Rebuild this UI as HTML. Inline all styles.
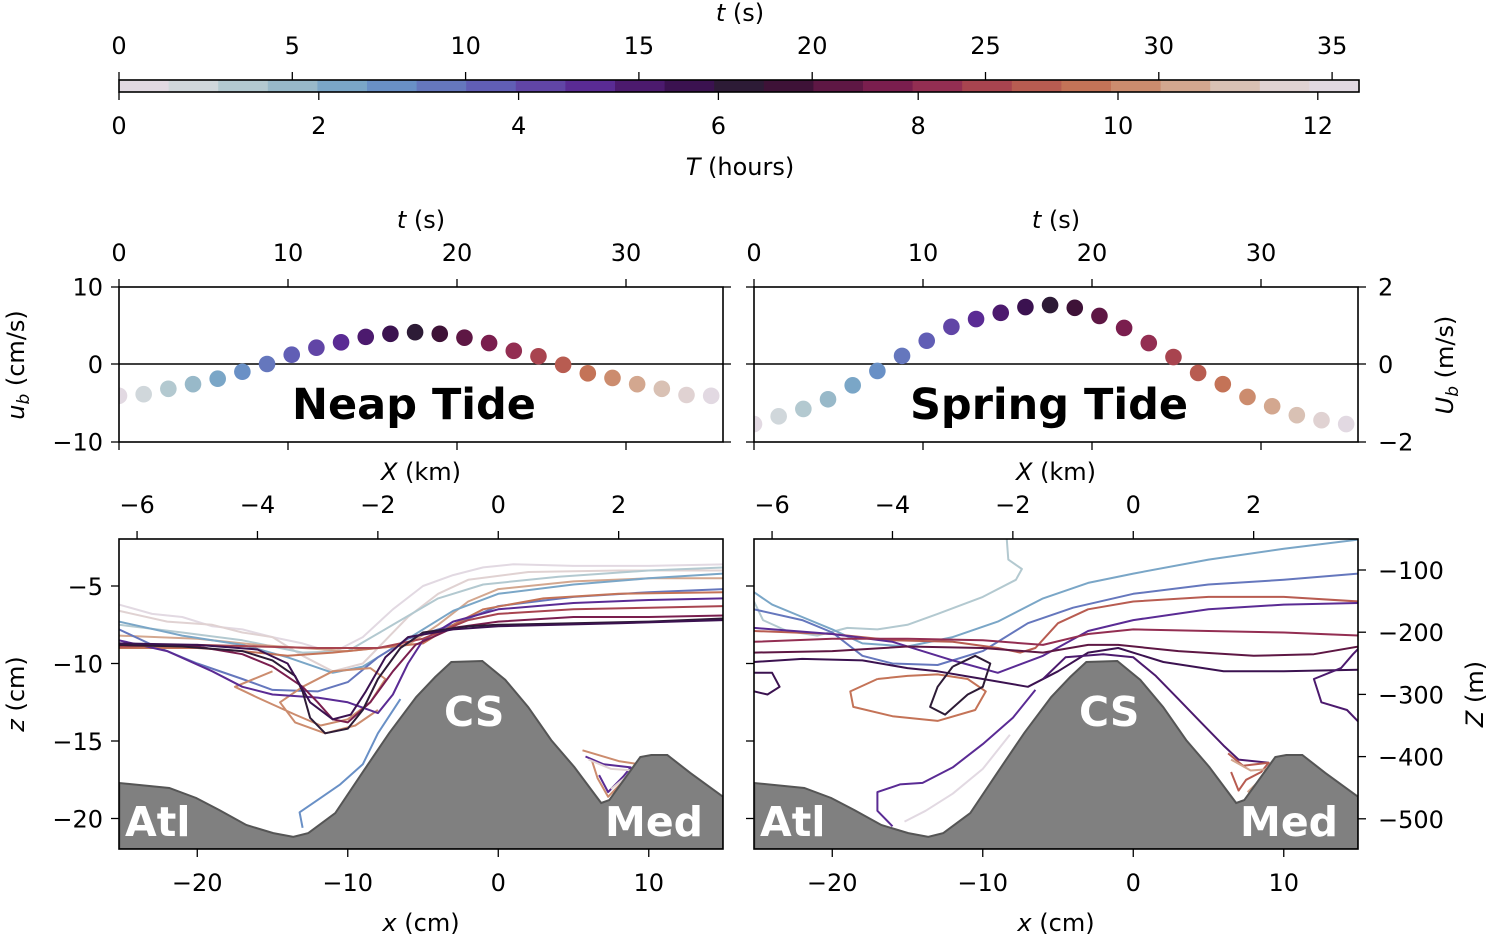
<!DOCTYPE html>
<html><head><meta charset="utf-8">
<style>
html,body{margin:0;padding:0;background:#fff;}
svg{display:block;font-family:"DejaVu Sans","Liberation Sans",sans-serif;}
</style></head>
<body>
<svg id="fig" width="1492" height="937" viewBox="0 0 1492 937" xmlns="http://www.w3.org/2000/svg">
<defs>
<clipPath id="clipL"><rect x="119" y="539" width="604" height="310"/></clipPath>
<clipPath id="clipR"><rect x="754" y="539" width="604" height="310"/></clipPath>
<clipPath id="clipTL"><rect x="119" y="287" width="604" height="155"/></clipPath>
<clipPath id="clipTR"><rect x="754" y="287" width="604" height="155"/></clipPath>
</defs>
<g id="cbar"></g>
<g id="topPanels"></g>
<g id="botPanels"></g>
</svg>
<script>
const cmap=["#e2d9e2","#d0d7db","#b3c9d0","#98b9c9","#7aa6c7","#6990c6","#6577bd","#615eb5","#6145a6","#5a2b94","#4c1a6e","#3b1250","#2d1b36","#3e1237","#5e1744","#7a1e4e","#932e52","#a8444f","#b85c51","#c47357","#cc8c6e","#d3a78f","#d9c1b4","#e0d2d2","#e2d9e2"];
const tSec=[0,1.46,2.92,4.38,5.84,7.3,8.76,10.22,11.68,13.14,14.6,16.06,17.52,18.98,20.44,21.9,23.36,24.82,26.28,27.74,29.2,30.66,32.12,33.58,35.04];
const neapUb=[-4.1,-3.9,-3.2,-2.6,-1.9,-1.0,0,1.2,2.1,2.8,3.5,3.9,4.1,3.9,3.4,2.7,1.7,1.0,-0.1,-1.2,-1.8,-2.6,-3.2,-4.0,-4.1];
const springUb=[-1.55,-1.35,-1.16,-0.91,-0.55,-0.18,0.21,0.6,0.96,1.16,1.32,1.47,1.52,1.45,1.24,0.93,0.54,0.18,-0.23,-0.52,-0.85,-1.09,-1.32,-1.45,-1.55];
const cbTopTicks=[0,5,10,15,20,25,30,35];
const cbBotTicks=[0,2,4,6,8,10,12];
const tTicks=[0,10,20,30];
const XkmTicks=[-6,-4,-2,0,2];
const xcmTicks=[-20,-10,0,10];
const zTicks=[-5,-10,-15,-20];
const ZmTicks=[-100,-200,-300,-400,-500];
const bathyX=[-25.18,-21.86,-20.07,-18.54,-16.74,-14.95,-13.62,-12.62,-10.83,-9.04,-7.24,-5.45,-4.19,-3.12,-1.06,0.47,1.99,3.52,5.05,6.84,7.38,9.44,10.17,11.23,12.76,14.95];
const bathyZ=[-17.71,-18.03,-18.68,-19.45,-20.42,-20.94,-21.19,-20.94,-19.65,-17.06,-14.48,-12.16,-10.87,-9.9,-9.84,-11.06,-12.81,-14.94,-16.68,-19.0,-18.81,-16.03,-15.9,-15.9,-17.06,-18.61];
const neapColors=[0,23,2,21,4,6,19,20,9,17,15,12,11,5,20,9,23];
const neapLines=[
[[-25.2,-6.2],[-23,-6.8],[-21,-7.0],[-19,-7.6],[-17,-7.8],[-15,-8.3],[-13,-8.7],[-11,-9.3],[-9,-8.3],[-7,-6.5],[-5,-5.0],[-3,-4.3],[-1,-3.8],[1,-3.6],[5,-3.7],[10,-3.7],[15,-3.6]],
[[-25.2,-6.6],[-22,-7.3],[-19,-7.5],[-17,-8],[-15,-8.3],[-13,-9.5],[-11,-10.5],[-9,-10],[-8,-9],[-6,-7],[-4,-5.5],[-2,-4.6],[2,-4.1],[8,-4],[15,-4]],
[[-25.2,-7.5],[-21,-8],[-17,-8.5],[-13,-9.3],[-10,-9.2],[-7,-7.5],[-4,-5.8],[-1,-4.9],[4,-4.4],[10,-4.0],[15,-3.8]],
[[-25.2,-8.2],[-20,-8.4],[-16,-8.8],[-13,-9],[-10,-9.2],[-6,-8.8],[-4,-7.5],[-2,-6],[0,-5.2],[5,-4.7],[10,-4.5],[15,-4.5]],
[[-25.2,-7.3],[-21,-8.2],[-17,-8.8],[-14,-9.6],[-11,-10.6],[-9,-10.2],[-6,-8.4],[-3,-6.6],[0,-5.5],[5,-4.9],[10,-4.5],[15,-4.2]],
[[-25.2,-7.8],[-23,-8.8],[-20,-10],[-17,-11],[-15,-11.7],[-12,-11.8],[-10,-11.2],[-8,-9.6],[-6,-8.4],[-3,-7.5],[0,-6.3],[5,-5.7],[10,-5.4],[15,-5.2]],
[[-25.2,-9],[-20,-9],[-17,-9.2],[-14,-9.5],[-11,-9.3],[-8,-9],[-5,-8.7],[-3,-7.5],[-1,-6.5],[3,-5.8],[8,-5.5],[15,-5.4]],
[[-15,-10.5],[-17.5,-11.5],[-16,-12.2],[-13.5,-13.3],[-11.8,-14],[-10,-13.6],[-8.5,-12.5],[-7.5,-11],[-8.5,-10.3],[-11,-10.5],[-13,-11.5],[-14.5,-12.5],[-13.5,-13.8],[-11.5,-14.5],[-9.5,-14],[-8,-13]],
[[-25.2,-8.5],[-22,-9.2],[-19,-10.5],[-17,-11.5],[-15,-12],[-12,-12.2],[-10,-12.5],[-8,-13.2],[-7,-12],[-6,-10],[-5,-8.5],[-3,-7.3],[0,-6.5],[5,-6.1],[10,-5.9],[15,-5.8]],
[[-25.2,-8.9],[-20,-8.8],[-16,-8.9],[-12,-9],[-8,-9],[-5,-8.4],[-2,-7.2],[0,-6.8],[5,-6.5],[10,-6.4],[15,-6.3]],
[[-25.2,-8.8],[-20,-8.9],[-17,-9.4],[-15,-10.2],[-13,-11.5],[-12,-12.5],[-11,-13.6],[-10,-13.8],[-8.5,-12.5],[-7,-10.5],[-5.5,-8.8],[-3,-7.7],[0,-7.3],[5,-7],[10,-7],[15,-6.9]],
[[-25.2,-8.8],[-21,-8.9],[-17,-9.2],[-15,-9.8],[-13.5,-10.8],[-13,-11.8],[-12.5,-13.5],[-11.5,-14.5],[-10,-14.2],[-9,-13],[-8,-11],[-6.5,-9],[-5,-8],[-2,-7.6],[0,-7.5],[5,-7.4],[10,-7.3],[15,-7.1]],
[[-25.2,-8.7],[-20,-8.8],[-16,-9.1],[-14,-10],[-12.5,-12.5],[-11,-13.6],[-9.8,-13.3],[-8.8,-11.8],[-7.5,-9.6],[-6,-8.3],[-3,-7.8],[0,-7.6],[8,-7.4],[15,-7.2]],
[[-13,-20.6],[-13.2,-19.6],[-12,-18.8],[-10.5,-17.8],[-9,-16.5],[-8,-14.5],[-6.5,-12.3]],
[[5.6,-15.6],[6.3,-15.8],[8,-16.3],[9.4,-16.5],[8.5,-17.4],[7.3,-18.6],[6.6,-17.4],[6.2,-16.2]],
[[5.8,-16],[7,-16.5],[8.8,-16.7],[8.3,-17.3],[7.3,-18.3],[6.7,-17.2]],
[[6,-16.2],[7.5,-16.8],[9,-16.9],[7.5,-18.1]]
];
const springColors=[2,4,6,18,9,16,14,11,19,12,9,10,18,10,11,21,0];
const springLines=[
[[-8.4,-2.0],[-8.3,-3.3],[-7.4,-3.9],[-7.8,-4.6],[-10,-5.7],[-13,-6.8],[-15,-7.5],[-17,-7.8],[-19,-7.7],[-21,-8.2],[-23,-7.9],[-24.6,-7.2],[-25.2,-6.0]],
[[-25.2,-5.4],[-24,-6.2],[-22,-7.0],[-20,-7.8],[-18,-8.7],[-15,-8.9],[-12,-8.3],[-9,-7.3],[-6,-5.8],[-3,-4.8],[0,-4.2],[5,-3.3],[10,-2.6],[15,-2.0]],
[[-25.2,-6.5],[-22,-7.2],[-20,-8.0],[-18,-9.5],[-16,-10],[-13,-10.1],[-10,-9.2],[-7,-7.4],[-4,-6.4],[0,-5.5],[5,-4.9],[10,-4.6],[15,-4.2]],
[[-25.2,-7.9],[-20,-8.1],[-16,-8.5],[-12,-8.6],[-9,-9],[-7.5,-9.3],[-6.5,-9.0],[-5,-7.4],[-3,-6.5],[0,-6.0],[5,-5.7],[10,-5.7],[15,-6.0]],
[[-25.2,-7.7],[-20,-8.1],[-16,-8.6],[-12,-9.8],[-9,-10.6],[-6,-9.5],[-3,-7.9],[0,-7.2],[5,-6.5],[10,-6.2],[15,-6.1]],
[[-25.2,-8.6],[-20,-8.4],[-15,-8.4],[-10,-8.5],[-6,-8.8],[-3,-8.1],[0,-7.8],[5,-7.9],[10,-8.0],[15,-8.2]],
[[-25.2,-9.3],[-20,-9.2],[-15,-8.9],[-10,-9.0],[-6,-9.3],[-3,-8.8],[-1,-8.8],[3,-9.2],[8,-9.5],[12,-9.4],[15,-8.9]],
[[-25.2,-9.9],[-22,-9.7],[-18,-9.8],[-15,-10.3],[-13,-10.5],[-10,-11],[-7,-11.5],[-5,-10.5],[-3,-9.3],[-1,-9.0],[2,-9.9],[6,-10.5],[10,-10.5],[15,-10.4]],
[[-17,-11],[-18.8,-11.8],[-18.6,-12.8],[-16,-13.4],[-13,-13.7],[-10.5,-13],[-9.8,-11.8],[-11,-11],[-13,-10.7],[-15,-10.8],[-17,-11]],
[[-12,-10.2],[-10.5,-9.5],[-9.5,-10],[-10,-11.5],[-11,-12],[-12.5,-13.3],[-13.5,-12.8],[-13,-11.5],[-12,-10.2]],
[[-16,-20.5],[-17,-19.5],[-17,-18.3],[-15.5,-17.8],[-14,-17.7],[-12,-16.7],[-10,-15.2],[-8,-13.5],[-6.5,-11.7]],
[[-6,-11],[-4.5,-9.6],[-2,-9.4],[0,-9.6],[1.5,-10.8],[3,-12.3],[4.5,-13.8],[6,-15.3],[7,-16.2],[9,-16.4]],
[[6.3,-15.8],[7.3,-16.6],[9,-16.4],[8.5,-17],[7.5,-17.5],[7,-18.2],[6.5,-17]],
[[15,-13.8],[14.2,-13],[12.5,-12.5],[12,-11],[13.8,-10.3],[14.6,-9.4],[15,-9]],
[[-25.2,-10.6],[-24,-10.6],[-23.5,-11.5],[-24.3,-12],[-25.2,-11.8]],
[[6.5,-16.2],[7.8,-16.9],[9.2,-16.8],[7.6,-18.3]],
[[-15.2,-20.2],[-13.8,-19.5],[-12,-18.4],[-10,-16.8],[-8.2,-14.6]]
];
</script>
<script>
const NS="http://www.w3.org/2000/svg";
function mk(parent,tag,attrs,text){const e=document.createElementNS(NS,tag);for(const k in attrs)e.setAttribute(k,attrs[k]);if(text!==undefined)e.textContent=text;parent.appendChild(e);return e;}
function fmt(v){return v<0?"\u2212"+Math.abs(v):String(v);}
const FS=24;
// ---- colorbar ----
const cb=document.getElementById('cbar');
const cbX0=119,cbX1=1359,cbY0=80,cbY1=92;
const segW=(cbX1-cbX0)/cmap.length;
cmap.forEach((c,i)=>{const r=mk(cb,'rect',{x:cbX0+i*segW,y:cbY0,width:segW+0.5,height:cbY1-cbY0,fill:c});

});
mk(cb,'rect',{x:cbX0,y:cbY0,width:cbX1-cbX0,height:cbY1-cbY0,fill:'none',stroke:'#000','stroke-width':1.6});
const cbTs=t=>cbX0+t*34.66, cbTh=h=>cbX0+h*99.9;
cbTopTicks.forEach(t=>{const x=cbTs(t);mk(cb,'line',{x1:x,y1:cbY0,x2:x,y2:cbY0-8,stroke:'#000','stroke-width':1.3});
const l=mk(cb,'text',{x:x,y:54,'font-size':FS,'text-anchor':'middle'},fmt(t));});
cbBotTicks.forEach(h=>{const x=cbTh(h);mk(cb,'line',{x1:x,y1:cbY1,x2:x,y2:cbY1+8,stroke:'#000','stroke-width':1.3});
const l=mk(cb,'text',{x:x,y:134,'font-size':FS,'text-anchor':'middle'},fmt(h));});
{const t=mk(cb,'text',{x:740,y:21,'font-size':FS,'text-anchor':'middle'});
mk(t,'tspan',{'font-style':'italic'},'t');mk(t,'tspan',{},' (s)');
const b=mk(cb,'text',{x:740,y:175,'font-size':FS,'text-anchor':'middle'});
mk(b,'tspan',{'font-style':'italic'},'T');mk(b,'tspan',{},' (hours)');}
// ---- top panels ----
const topG=document.getElementById('topPanels');
function topPanel(x0,vals,scale,title,name){
 const g=mk(topG,'g',{});
 const W=604,y0=287,y1=442,yz=364;
 const sx=t=>x0+t*16.9, sy=v=>yz-v*scale;
 mk(g,'line',{x1:x0,y1:yz,x2:x0+W,y2:yz,stroke:'#000','stroke-width':1.6});
 const pg=mk(g,'g',{'clip-path':x0<500?'url(#clipTL)':'url(#clipTR)'});
 vals.forEach((v,i)=>{const c=mk(pg,'circle',{cx:sx(tSec[i]),cy:sy(v),r:8.3,fill:cmap[i]});
 
 });
 const tt=mk(g,'text',{x:x0+W/2-7,y:419,'font-size':43,'font-weight':'bold','text-anchor':'middle'},title);
 
 mk(g,'rect',{x:x0,y:y0,width:W,height:y1-y0,fill:'none',stroke:'#000','stroke-width':1.6});
 tTicks.forEach(t=>{const x=sx(t);mk(g,'line',{x1:x,y1:y0,x2:x,y2:y0-8,stroke:'#000','stroke-width':1.3});mk(g,'line',{x1:x,y1:y1,x2:x,y2:y1+8,stroke:'#000','stroke-width':1.3});
 const l=mk(g,'text',{x:x,y:261,'font-size':FS,'text-anchor':'middle'},fmt(t));});
 const t2=mk(g,'text',{x:x0+W/2,y:228,'font-size':FS,'text-anchor':'middle'});
 mk(t2,'tspan',{'font-style':'italic'},'t');mk(t2,'tspan',{},' (s)');
 [y0,yz,y1].forEach(y=>{mk(g,'line',{x1:x0,y1:y,x2:x0-8,y2:y,stroke:'#000','stroke-width':1.3});mk(g,'line',{x1:x0+W,y1:y,x2:x0+W+8,y2:y,stroke:'#000','stroke-width':1.3});});
 return {g,sy};
}
const tl=topPanel(119,neapUb,7.75,'Neap Tide','neap-velocity-panel');
[10,0,-10].forEach(v=>{const l=mk(tl.g,'text',{x:103,y:tl.sy(v)+9,'font-size':FS,'text-anchor':'end'},fmt(v));});
{const t=mk(tl.g,'text',{x:0,y:0,'font-size':FS,'text-anchor':'middle',transform:'translate(24,365) rotate(-90)'});
mk(t,'tspan',{'font-style':'italic'},'u');mk(t,'tspan',{'font-style':'italic','font-size':17,dy:5},'b');mk(t,'tspan',{dy:-5},' (cm/s)');}
const tr=topPanel(754,springUb,38.75,'Spring Tide','spring-velocity-panel');
[2,0,-2].forEach(v=>{const l=mk(tr.g,'text',{x:1378,y:tr.sy(v)+9,'font-size':FS},fmt(v));});
{const t=mk(tr.g,'text',{x:0,y:0,'font-size':FS,'text-anchor':'middle',transform:'translate(1453,365) rotate(-90)'});
mk(t,'tspan',{'font-style':'italic'},'U');mk(t,'tspan',{'font-style':'italic','font-size':17,dy:5},'b');mk(t,'tspan',{dy:-5},' (m/s)');}
// ---- bottom panels ----
const botG=document.getElementById('botPanels');
function botPanel(x0,lines,colors,name,clip){
 const g=mk(botG,'g',{});
 const W=604,y0=539,y1=849;
 const sx=x=>x0+(x+25.2)*15.05, sy=z=>586-(z+5)*15.5;
 const cg=mk(g,'g',{'clip-path':clip});
 lines.forEach((ln,i)=>{const d=ln.map((p,j)=>(j?'L':'M')+sx(p[0]).toFixed(1)+' '+sy(p[1]).toFixed(1)).join(' ');
 const p=mk(cg,'path',{d:d,fill:'none',stroke:cmap[colors[i]],'stroke-width':2,'stroke-linejoin':'round'});
 
 });
 let d='M'+sx(bathyX[0])+' '+y1;
 bathyX.forEach((x,i)=>{d+=' L'+sx(x).toFixed(1)+' '+sy(bathyZ[i]).toFixed(1);});
 d+=' L'+(x0+W)+' '+sy(bathyZ[bathyZ.length-1]).toFixed(1)+' L'+(x0+W)+' '+y1+' Z';
 const b=mk(cg,'path',{d:d,fill:'#808080',stroke:'#555','stroke-width':2});
 
 [['CS',sx(-1.6),726,'center-label-cs'],['Atl',x0+6,836,'atlantic-label'],['Med',x0+W-20,836,'med-label']].forEach(a=>{
  const t=mk(g,'text',{x:a[1],y:a[2],'font-size':41,'font-weight':'bold',fill:'#fff','text-anchor':a[0]=='CS'?'middle':(a[0]=='Med'?'end':'start')},a[0]);
  });
 mk(g,'rect',{x:x0,y:y0,width:W,height:y1-y0,fill:'none',stroke:'#000','stroke-width':1.6});
 XkmTicks.forEach(k=>{const x=sx(k*4.0);mk(g,'line',{x1:x,y1:y0,x2:x,y2:y0-8,stroke:'#000','stroke-width':1.3});
 const l=mk(g,'text',{x:x,y:513,'font-size':FS,'text-anchor':'middle'},fmt(k));});
 xcmTicks.forEach(v=>{const x=sx(v);mk(g,'line',{x1:x,y1:y1,x2:x,y2:y1+8,stroke:'#000','stroke-width':1.3});
 const l=mk(g,'text',{x:x,y:891,'font-size':FS,'text-anchor':'middle'},fmt(v));});
 const t1=mk(g,'text',{x:x0+W/2,y:480,'font-size':FS,'text-anchor':'middle'});
 mk(t1,'tspan',{'font-style':'italic'},'X');mk(t1,'tspan',{},' (km)');
 const t2=mk(g,'text',{x:x0+W/2,y:931,'font-size':FS,'text-anchor':'middle'});
 mk(t2,'tspan',{'font-style':'italic'},'x');mk(t2,'tspan',{},' (cm)');
 zTicks.forEach(z=>{mk(g,'line',{x1:x0,y1:sy(z),x2:x0-8,y2:sy(z),stroke:'#000','stroke-width':1.3});});
 return {g,sx,sy};
}
const bl=botPanel(119,neapLines,neapColors,'neap-section-panel','url(#clipL)');
zTicks.forEach(z=>{const l=mk(bl.g,'text',{x:103,y:bl.sy(z)+9,'font-size':FS,'text-anchor':'end'},fmt(z));});
{const t=mk(bl.g,'text',{x:0,y:0,'font-size':FS,'text-anchor':'middle',transform:'translate(24,694) rotate(-90)'});
mk(t,'tspan',{'font-style':'italic'},'z');mk(t,'tspan',{},' (cm)');}
const br=botPanel(754,springLines,springColors,'spring-section-panel','url(#clipR)');
ZmTicks.forEach(m=>{const y=570+(-100-m)/100*62.2;mk(br.g,'line',{x1:1358,y1:y,x2:1366,y2:y,stroke:'#000','stroke-width':1.3});
const l=mk(br.g,'text',{x:1378,y:y+9,'font-size':FS},fmt(m));});
{const t=mk(br.g,'text',{x:0,y:0,'font-size':FS,'text-anchor':'middle',transform:'translate(1483,694) rotate(-90)'});
mk(t,'tspan',{'font-style':'italic'},'Z');mk(t,'tspan',{},' (m)');}
</script>
</body></html>
